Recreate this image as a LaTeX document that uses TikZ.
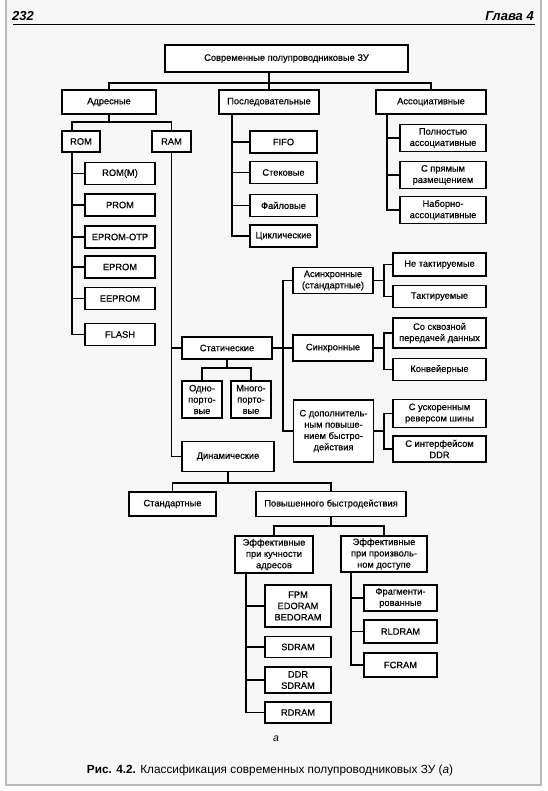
\documentclass[tikz,border=0pt]{standalone}
\usepackage{fontspec}
\setmainfont{Liberation Sans}
\newfontfamily\boxfont{Liberation Sans}[FakeBold=0.5]

\begin{document}
\begin{tikzpicture}[x=1pt, y=-1pt,
  blk/.style={draw, line width=1.4pt, fill=white, align=center, inner sep=1pt,
    font=\boxfont\fontsize{9.3}{11.3}\selectfont},
  ln/.style={line width=1.3pt}]
  \useasboundingbox (0,0) rectangle (547,791);
  \fill[white] (0,0) rectangle (547,791);
  \fill[black!3] (6,-2) rectangle (541,785);
  \draw[black!28, line width=1.2pt] (6,-2) -- (6,785) -- (541,785) -- (541,-2);

  % page head
  \node[font=\fontsize{13}{15}\selectfont\bfseries\itshape, anchor=base west, inner sep=0pt] (pnum) at (12,21) {232};
  \node[font=\fontsize{13}{15}\selectfont\bfseries\itshape, anchor=base east, inner sep=0pt] (chap) at (534,21) {Глава 4};
  \draw[line width=1pt] (13,25) -- (535,25);

  % top level
  \node[blk, minimum width=243pt, minimum height=27pt] (mem) at (286.5,58.5) {Современные полупроводниковые ЗУ};
  \node[blk, minimum width=94pt, minimum height=24pt] (addr) at (109,102) {Адресные};
  \node[blk, minimum width=100pt, minimum height=24pt] (seq) at (269,102) {Последовательные};
  \node[blk, minimum width=110pt, minimum height=24pt] (assoc) at (431,102) {Ассоциативные};
  \coordinate (b1) at (269,83);
  \draw[ln] (mem.south -| seq) -- (seq.north);
  \draw[ln] (addr.north) |- (b1) -| (assoc.north);

  % ROM / RAM
  \node[blk, minimum width=38pt, minimum height=21pt] (rom) at (81,141.5) {ROM};
  \node[blk, minimum width=39pt, minimum height=21pt] (ram) at (171.5,141.5) {RAM};
  \coordinate (b2) at (109,122);
  \draw[ln] (addr.south) -- (b2);
  \draw[ln] ([xshift=-9pt]rom.north) |- (b2) -| (ram.north);

  \foreach \nm/\yy/\txt in {romm/173.5/ROM(M), prom/205/PROM, otp/237/EPROM-OTP,
      eprom/267/EPROM, eeprom/298.5/EEPROM, flash/334.5/FLASH}
    \node[blk, minimum width=70pt, minimum height=22pt] (\nm) at (120,\yy) {\txt};
  \coordinate (romstem) at ([xshift=-9pt]rom.south);
  \draw[ln] (romstem) |- (flash.west);
  \foreach \nm in {romm,prom,otp,eprom,eeprom}
    \draw[ln] (\nm.west) -- (\nm.west -| romstem);

  % sequential
  \foreach \nm/\yy/\txt in {fifo/142/FIFO, stack/172.5/Стековые, file/205.5/Файловые, cyc/236/Циклические}
    \node[blk, minimum width=67pt, minimum height=22pt] (\nm) at (283.5,\yy) {\txt};
  \coordinate (seqstem) at ([xshift=-37pt]seq.south);
  \draw[ln] (seqstem) |- (cyc.west);
  \foreach \nm in {fifo,stack,file}
    \draw[ln] (\nm.west) -- (\nm.west -| seqstem);

  % associative
  \node[blk, minimum width=86pt, minimum height=27pt] (full) at (443,138) {Полностью\\ассоциативные};
  \node[blk, minimum width=86pt, minimum height=27pt] (direct) at (443,175) {С прямым\\размещением};
  \node[blk, minimum width=86pt, minimum height=27pt] (setas) at (443,210) {Наборно-\\ассоциативные};
  \coordinate (asstem) at ([xshift=-44pt]assoc.south);
  \draw[ln] (asstem) |- (setas.west);
  \foreach \nm in {full,direct}
    \draw[ln] (\nm.west) -- (\nm.west -| asstem);

  % static RAM
  \node[blk, minimum width=90pt, minimum height=22pt] (stat) at (227,348) {Статические};
  \node[blk, minimum width=40pt, minimum height=37pt] (one) at (202,399.5) {Одно-\\порто-\\вые};
  \node[blk, minimum width=40pt, minimum height=37pt] (multi) at (251,399.5) {Много-\\порто-\\вые};
  \coordinate (b5) at (227,368);
  \draw[ln] (stat.south) -- (b5);
  \draw[ln] (one.north) |- (b5) -| (multi.north);

  \node[blk, minimum width=80pt, minimum height=26pt] (async) at (333,280.5) {Асинхронные\\(стандартные)};
  \node[blk, minimum width=80pt, minimum height=26pt] (sync) at (333,348) {Синхронные};
  \node[blk, minimum width=80pt, minimum height=62pt] (extra) at (333.5,431) {С дополнитель-\\ным повыше-\\нием быстро-\\действия};
  \coordinate (js) at (283,348);
  \draw[ln] (stat.east) -- (sync.west);
  \draw[ln] (async.west) -| (js) |- (extra.west);

  \node[blk, minimum width=93pt, minimum height=23pt] (nt) at (439.5,264.5) {Не тактируемые};
  \node[blk, minimum width=93pt, minimum height=22pt] (tk) at (439.5,296.5) {Тактируемые};
  \node[blk, minimum width=93pt, minimum height=30pt] (thru) at (439.5,333) {Со сквозной\\передачей данных};
  \node[blk, minimum width=93pt, minimum height=22pt] (pipe) at (439.5,369.5) {Конвейерные};
  \node[blk, minimum width=93pt, minimum height=28pt] (rev) at (439.5,413.5) {С ускоренным\\реверсом шины};
  \node[blk, minimum width=93pt, minimum height=26pt] (ddri) at (439.5,449) {С интерфейсом\\DDR};
  \coordinate (ja) at (384,280.5);
  \coordinate (jb) at (384,348);
  \coordinate (jc) at (384,431);
  \draw[ln] (async.east) -- (ja);
  \draw[ln] (nt.west) -| (ja) |- (tk.west);
  \draw[ln] (sync.east) -- (jb);
  \draw[ln] (thru.west) -| (jb) |- (pipe.west);
  \draw[ln] (extra.east) -- (jc);
  \draw[ln] (rev.west) -| (jc) |- (ddri.west);

  % dynamic RAM
  \node[blk, minimum width=92pt, minimum height=30pt] (dyn) at (228,456.5) {Динамические};
  \draw[ln] (ram.south) |- (dyn.west);
  \draw[ln] (stat.west) -- (stat.west -| ram.south);

  \node[blk, minimum width=87pt, minimum height=24pt] (std) at (172.5,504) {Стандартные};
  \node[blk, minimum width=150pt, minimum height=25pt] (fast) at (331,504) {Повышенного быстродействия};
  \coordinate (b3) at (228,483);
  \draw[ln] (dyn.south) -- (b3);
  \draw[ln] (std.north) |- (b3) -| (fast.north);

  \node[blk, minimum width=78pt, minimum height=37pt] (eff1) at (274,554.5) {Эффективные\\при кучности\\адресов};
  \node[blk, minimum width=86pt, minimum height=36pt] (eff2) at (384,554) {Эффективные\\при произволь-\\ном доступе};
  \coordinate (b4) at (331,526);
  \draw[ln] (fast.south) -- (b4);
  \draw[ln] (eff1.north) |- (b4) -| (eff2.north);

  \node[blk, minimum width=66pt, minimum height=42pt] (fpm) at (298,606) {FPM\\EDORAM\\BEDORAM};
  \node[blk, minimum width=66pt, minimum height=21pt] (sdram) at (298,647) {SDRAM};
  \node[blk, minimum width=66pt, minimum height=26pt] (ddrs) at (298,680) {DDR\\SDRAM};
  \node[blk, minimum width=66pt, minimum height=21pt] (rdram) at (298,712.5) {RDRAM};
  \coordinate (e1stem) at ([xshift=-28pt]eff1.south);
  \draw[ln] (e1stem) |- (rdram.west);
  \foreach \nm in {fpm,sdram,ddrs}
    \draw[ln] (\nm.west) -- (\nm.west -| e1stem);

  \node[blk, minimum width=73pt, minimum height=26pt] (frag) at (400.5,598) {Фрагменти-\\рованные};
  \node[blk, minimum width=73pt, minimum height=23pt] (rld) at (400.5,631.5) {RLDRAM};
  \node[blk, minimum width=73pt, minimum height=24pt] (fcr) at (400.5,665) {FCRAM};
  \coordinate (e2stem) at ([xshift=-33pt]eff2.south);
  \draw[ln] (e2stem) |- (fcr.west);
  \foreach \nm in {frag,rld}
    \draw[ln] (\nm.west) -- (\nm.west -| e2stem);

  % caption
  \node[font=\fontsize{10.5}{12}\selectfont\itshape] (sub) at (276,739) {а};
  \node[font=\fontsize{11.8}{14}\selectfont] (cap) at (270,770) {\textbf{Рис. 4.2.} Классификация современных полупроводниковых ЗУ (\textit{а})};
\end{tikzpicture}
\end{document}
